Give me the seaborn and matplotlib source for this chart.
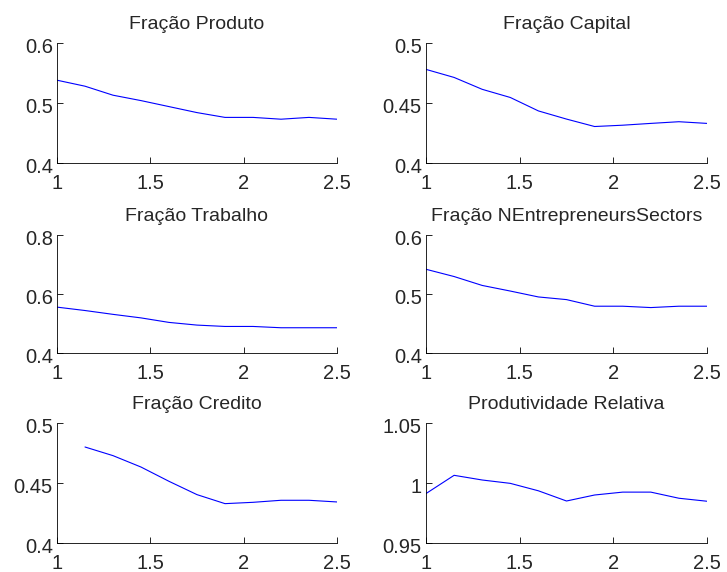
import numpy as np
import pandas as pd
import seaborn as sns
import matplotlib
matplotlib.use("Agg")
import matplotlib.pyplot as plt
import matplotlib.transforms as mtransforms

# ---- data ----
x_vals = [1.0, 1.15, 1.3, 1.45, 1.6, 1.75, 1.9, 2.05, 2.2, 2.35, 2.5]

titles = ["Fração Produto", "Fração Capital", "Fração Trabalho",
          "Fração NEntrepreneursSectors", "Fração Credito", "Produtividade Relativa"]

produto = [0.538, 0.528, 0.513, 0.504, 0.494, 0.484, 0.476, 0.476, 0.473, 0.476, 0.473]
capital = [0.478, 0.4713, 0.4614, 0.4546, 0.4434, 0.4366, 0.4304, 0.4315, 0.433, 0.4344, 0.433]
trabalho = [0.5555, 0.544, 0.531, 0.519, 0.5037, 0.4946, 0.490, 0.490, 0.4856, 0.4856, 0.4856]
nentre = [0.5419, 0.5296, 0.5145, 0.505, 0.495, 0.4905, 0.4793, 0.4793, 0.477, 0.4793, 0.4793]
credito = [np.nan, 0.480, 0.4728, 0.4633, 0.4514, 0.4403, 0.4328, 0.4339, 0.4356, 0.4356, 0.4342]
produtiv = [0.9912, 1.0064, 1.0025, 0.9997, 0.9935, 0.985, 0.990, 0.9924, 0.9924, 0.9873, 0.9848]

series = [produto, capital, trabalho, nentre, credito, produtiv]

x_ticks = [1, 1.5, 2, 2.5]
x_ticklabels = ["1", "1.5", "2", "2.5"]
y_ticks = [[0.4, 0.5, 0.6], [0.4, 0.45, 0.5], [0.4, 0.6, 0.8],
           [0.4, 0.5, 0.6], [0.4, 0.45, 0.5], [0.95, 1.0, 1.05]]
y_ticklabels = [["0.4", "0.5", "0.6"], ["0.4", "0.45", "0.5"], ["0.4", "0.6", "0.8"],
                ["0.4", "0.5", "0.6"], ["0.4", "0.45", "0.5"], ["0.95", "1", "1.05"]]

# ---- style ----
sns.set_style("ticks")
plt.rcParams['font.family'] = ['Liberation Sans', 'DejaVu Sans']
plt.rcParams['xtick.direction'] = 'in'
plt.rcParams['ytick.direction'] = 'in'

fig = plt.figure(figsize=(7.27, 5.72), dpi=100)
W, H = 727, 572
lefts = [57, 426]
widths = [280, 281]
tops = [43, 235, 423]
bottoms = [163, 353, 543]
ylab_shift = mtransforms.ScaledTranslation(0, -2.5 / 100, fig.dpi_scale_trans)

for i, (title, vals) in enumerate(zip(titles, series)):
    r, c = divmod(i, 2)
    ax = fig.add_axes([lefts[c] / W, 1 - bottoms[r] / H,
                       widths[c] / W, (bottoms[r] - tops[r]) / H])
    df = pd.DataFrame({"x": x_vals, "y": vals})
    sns.lineplot(data=df, x="x", y="y", ax=ax, color=(0, 0, 1), linewidth=0.8)
    ax.set_xlim(1, 2.5)
    ax.set_ylim(y_ticks[i][0], y_ticks[i][-1])
    ax.set_xticks(x_ticks)
    ax.set_xticklabels(x_ticklabels)
    ax.set_yticks(y_ticks[i])
    ax.set_yticklabels(y_ticklabels[i])
    ax.set_xlabel("")
    ax.set_ylabel("")
    ax.set_title(title, fontsize=14, pad=10)
    ax.tick_params(axis='both', labelsize=14.5, length=4, width=0.6, color='black')
    ax.tick_params(axis='x', pad=8)
    ax.tick_params(axis='y', pad=3)
    for lab in ax.get_yticklabels():
        lab.set_transform(lab.get_transform() + ylab_shift)
    for s in ['top', 'right']:
        ax.spines[s].set_visible(False)
    for s in ['left', 'bottom']:
        ax.spines[s].set_linewidth(0.6)
        ax.spines[s].set_color('black')
    ax.set_facecolor('white')

fig.savefig("out.png", dpi=100, facecolor='white')
